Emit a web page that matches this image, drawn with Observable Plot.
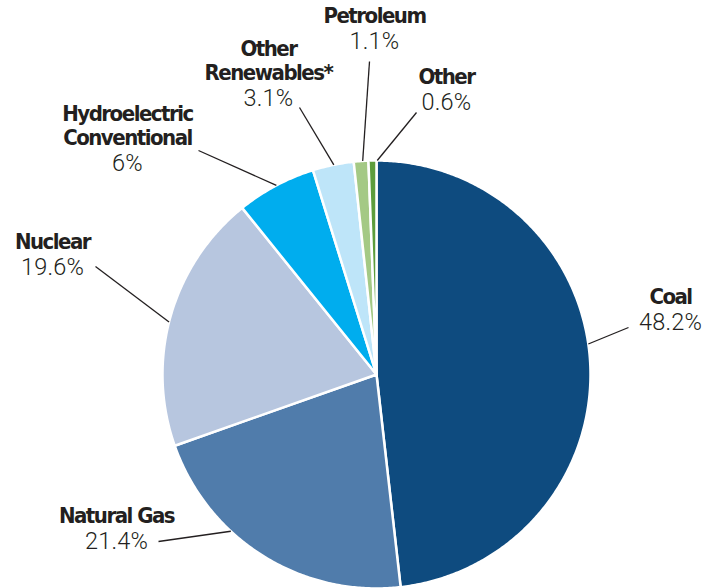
<!DOCTYPE html>
<html>
<head>
<meta charset="utf-8">
<script src="https://cdn.jsdelivr.net/npm/d3@7"></script>
<script src="https://cdn.jsdelivr.net/npm/@observablehq/plot@0.6"></script>
<style>
  html, body { margin: 0; padding: 0; background: #fff; }
  #chart { width: 719px; height: 588px; }
  .names text { letter-spacing: -1.5px; }
  .pcts text { letter-spacing: 0.2px; }
</style>
</head>
<body>
<div id="chart"></div>
<script>
// ---- data ----
const categories = ["Coal", "Natural Gas", "Nuclear", "Hydroelectric\nConventional", "Other\nRenewables*", "Petroleum", "Other"];
const values = [48.2, 21.4, 19.6, 6, 3.1, 1.1, 0.6];
const colors = ["#0e4b7f", "#507cab", "#b7c6df", "#00adee", "#bee5f9", "#a4c985", "#5d9d3c"];

// ---- layout (positions only) ----
const W = 719, H = 588;
const cx = 376, cy = 374, R = 214;
// label centre x, name-line baseline y, leader start angle (deg, clockwise from top), leader outer end
const labelX = [670, 116, 52, 127, 268, 374, 446];
const labelY = [303, 522, 248, 144, 79, 22, 83];
const leaderAngle = [81.8, 222.9, 284.2, 332.1, 348.5, 356.3, 0.2];
const leaderEnd = [[628, 327], [158, 541], [95, 266], [198, 150], [299, 107], [369, 61], [416, 112]];

const pie = d3.pie().sort(null).value(d => d).startAngle(0).endAngle(2 * Math.PI)(values);

function polar(a, r) { return [cx + r * Math.sin(a), cy - r * Math.cos(a)]; }

const slices = pie.map((p, i) => {
  const pts = [{x: cx, y: cy}];
  const n = Math.max(2, Math.ceil((p.endAngle - p.startAngle) / (Math.PI / 360)));
  for (let k = 0; k <= n; k++) {
    const a = p.startAngle + (p.endAngle - p.startAngle) * k / n;
    const [x, y] = polar(a, R);
    pts.push({x, y});
  }
  pts.push({x: cx, y: cy});
  return {pts, color: colors[i]};
});

const leaders = [];
categories.forEach((c, i) => {
  const [x0, y0] = polar(leaderAngle[i] * Math.PI / 180, R);
  leaders.push({x1: x0, y1: y0, x2: leaderEnd[i][0], y2: leaderEnd[i][1]});
});

const labels = categories.map((c, i) => ({
  name: c, pct: values[i] + "%", x: labelX[i], y: labelY[i], y2: labelY[i] + 26
}));

const nameFont = "'DejaVu Sans Condensed','Liberation Sans Narrow',sans-serif";
const pctFont = "Roboto, 'Liberation Sans', sans-serif";

const chart = Plot.plot({
  width: W, height: H, margin: 0,
  x: {domain: [0, W], range: [0, W], axis: null},
  y: {domain: [0, H], range: [0, H], axis: null},
  marks: [
    ...slices.map(s => Plot.line(s.pts, {x: "x", y: "y", fill: s.color, stroke: "white", strokeWidth: 2.5, strokeLinejoin: "round"})),
    Plot.link(leaders, {x1: "x1", y1: "y1", x2: "x2", y2: "y2", stroke: "#231f20", strokeWidth: 1.3}),
    Plot.text(labels, {x: "x", y: "y", text: "name", lineAnchor: "bottom", textAnchor: "middle", lineHeight: 1.05,
      fontSize: 22, fontWeight: "bold", fontFamily: nameFont, fill: "#231f20", className: "names"}),
    Plot.text(labels, {x: "x", y: "y2", text: "pct", lineAnchor: "bottom", textAnchor: "middle",
      fontSize: 23.5, fontWeight: 300, fontFamily: pctFont, fill: "#231f20", className: "pcts"})
  ]
});
document.getElementById("chart").appendChild(chart);
</script>
</body>
</html>
